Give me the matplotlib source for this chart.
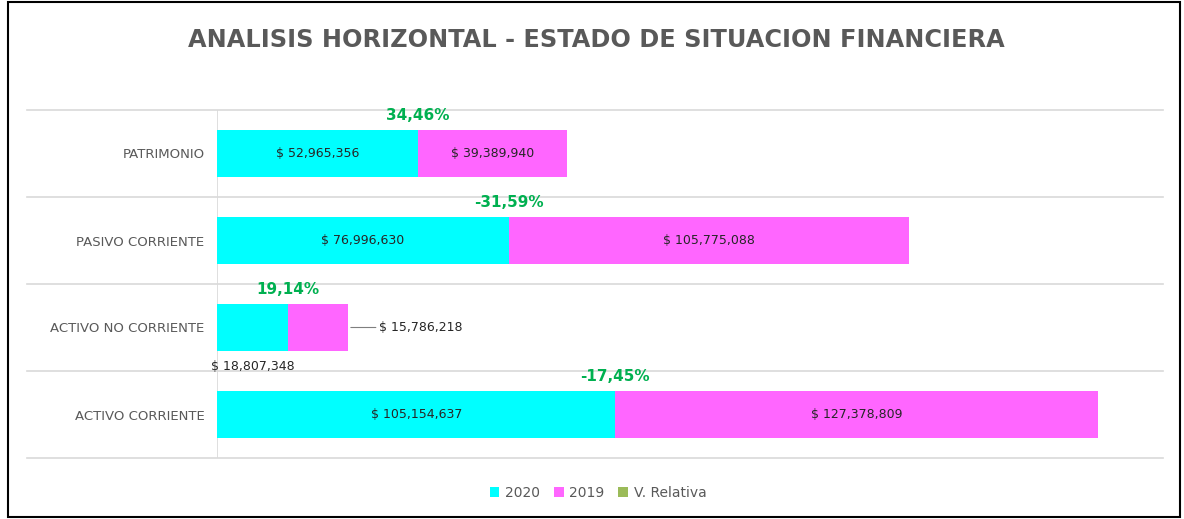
import matplotlib
matplotlib.use("Agg")
import matplotlib.pyplot as plt
from matplotlib.patches import Rectangle, Patch

categories = ["ACTIVO CORRIENTE", "ACTIVO NO CORRIENTE", "PASIVO CORRIENTE", "PATRIMONIO"]
values_2020 = [105154637, 18807348, 76996630, 52965356]
values_2019 = [127378809, 15786218, 105775088, 39389940]
pct_labels = ["-17,45%", "19,14%", "-31,59%", "34,46%"]
title = "ANALISIS HORIZONTAL - ESTADO DE SITUACION FINANCIERA"
legend_labels = ["2020", "2019", "V. Relativa"]

C2020 = "#00FFFF"
C2019 = "#FF66FF"
CREL = "#9BBB59"
GREEN = "#00B050"
GRAY = "#595959"
DARK = "#262626"
GRID = "#D9D9D9"

W, H = 1184, 519
fig = plt.figure(figsize=(W / 100, H / 100), dpi=100)
fig.patch.set_facecolor("white")
fig.patches.append(Rectangle((8 / W, 2 / H), 1172 / W, 515 / H, transform=fig.transFigure,
                             fill=False, edgecolor="black", linewidth=1.5))

ax_l, ax_r, ax_t, ax_b = 217, 1163, 110, 458
ax = fig.add_axes([ax_l / W, 1 - ax_b / H, (ax_r - ax_l) / W, (ax_b - ax_t) / H])
ax.set_xlim(0, 249.7e6)
ax.set_ylim(-0.5, 3.5)

y = list(range(len(categories)))
bh = 0.55
ax.barh(y, values_2020, height=bh, color=C2020, zorder=3)
ax.barh(y, values_2019, left=values_2020, height=bh, color=C2019, zorder=3)

for s in ax.spines.values():
    s.set_visible(False)
ax.set_xticks([])
ax.set_yticks(y)
ax.set_yticklabels(categories, fontsize=9.5, color=GRAY)
ax.tick_params(axis="y", length=0, pad=9)

xmin_ext = (27 - ax_l) / (ax_r - ax_l)
for g in [-0.5, 0.5, 1.5, 2.5, 3.5]:
    ax.axhline(g, xmin=xmin_ext, xmax=1, color=GRID, lw=1.2, clip_on=False, zorder=1)
ax.axvline(0, color=GRID, lw=1.2, zorder=2)

def fmt(v):
    return "$ {:,}".format(v)

for i, (a, b) in enumerate(zip(values_2020, values_2019)):
    if categories[i] == "ACTIVO NO CORRIENTE":
        ax.annotate(fmt(a), xy=(a / 2, i - bh / 2), xytext=(0, -11), textcoords="offset points",
                    ha="center", va="center", fontsize=9, color=DARK, zorder=4)
        ax.annotate(fmt(b), xy=(a + b, i), xytext=(22, 0), textcoords="offset points",
                    ha="left", va="center", fontsize=9, color=DARK, zorder=4,
                    arrowprops=dict(arrowstyle="-", color="#7F7F7F", lw=0.8,
                                    shrinkA=0, shrinkB=2))
    else:
        ax.text(a / 2, i, fmt(a), ha="center", va="center", fontsize=9, color=DARK, zorder=4)
        ax.text(a + b / 2, i, fmt(b), ha="center", va="center", fontsize=9, color=DARK, zorder=4)
    ax.annotate(pct_labels[i], xy=(a, i + bh / 2), xytext=(0, 10), textcoords="offset points",
                ha="center", va="center", fontsize=11, fontweight="bold", color=GREEN, zorder=5)

fig.text(596 / W, 1 - 40 / H, title, ha="center", va="center", fontsize=17.3,
         color=GRAY, fontweight="semibold")

handles = [Patch(facecolor=C2020), Patch(facecolor=C2019), Patch(facecolor=CREL)]
leg = fig.legend(handles, legend_labels, loc="center", bbox_to_anchor=(598 / W, 1 - 493 / H),
                 ncol=3, frameon=False, fontsize=10, handlelength=0.7, handleheight=0.7,
                 handletextpad=0.4, columnspacing=1.0)
for t in leg.get_texts():
    t.set_color(GRAY)

fig.savefig("out.png", dpi=100, facecolor="white")
